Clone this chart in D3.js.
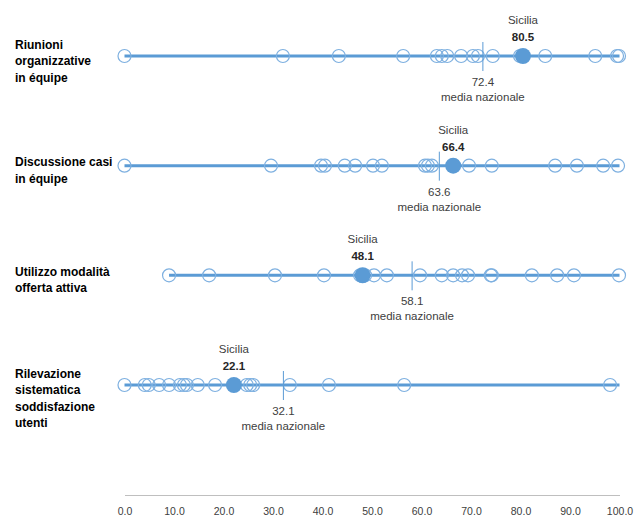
<!DOCTYPE html>
<html>
<head>
<meta charset="utf-8">
<script src="https://cdn.jsdelivr.net/npm/d3@7"></script>
<style>
    body { margin: 0; background: white; }
    text { font-family: "Liberation Sans", Arial, sans-serif; }
</style>
</head>
<body>
<svg id="chart" width="643" height="527"></svg>
<script>
const width = 643
const height = 527

// categorie (righe) - etichette su più linee
const categories = [
    ["Riunioni", "organizzative", "in équipe"],
    ["Discussione casi", "in équipe"],
    ["Utilizzo modalità", "offerta attiva"],
    ["Rilevazione", "sistematica", "soddisfazione", "utenti"]
]

// valori regionali
const regioni_riunioni = [0, 32.0, 43.3, 56.3, 63.1, 64.1, 65.2, 68.0, 70.4, 71.4, 74.4, 79.9, 85.0, 95.1, 99.5, 99.9]
const regioni_discussione = [0, 29.6, 39.7, 40.5, 44.5, 46.6, 50.2, 52.0, 60.7, 61.3, 62.1, 69.6, 74.2, 87.0, 91.4, 96.7, 99.7]
const regioni_offerta = [9.0, 17.1, 30.4, 40.3, 47.6, 48.6, 50.4, 53.0, 59.7, 64.1, 66.4, 68.2, 69.4, 74.0, 74.2, 82.3, 87.4, 90.8, 99.9]
const regioni_soddisfazione = [0, 4.1, 4.9, 7.0, 9.0, 11.2, 12.0, 12.6, 14.8, 18.3, 24.7, 25.4, 26.0, 33.4, 41.3, 56.5, 98.1]
const regioni = [regioni_riunioni, regioni_discussione, regioni_offerta, regioni_soddisfazione]

const sicilia = [80.5, 66.4, 48.1, 22.1]
const mediaNazionale = [72.4, 63.6, 58.1, 32.1]

const ticks = [0, 10, 20, 30, 40, 50, 60, 70, 80, 90, 100]

const blu = "#5B9BD5"
const bluChiaro = "#7EB0E0"

const svg = d3.select("#chart")

const x = d3.scaleLinear().domain([0, 100]).range([124.5, 619.5])
const y = d3.scalePoint().domain(d3.range(categories.length)).range([56, 385])

// etichette delle righe
svg.selectAll(".rowLabel")
    .data(categories)
    .join("text")
    .attr("class", "rowLabel")
    .attr("font-size", "12px")
    .attr("font-weight", "bold")
    .attr("fill", "#000")
    .each(function (d, i) {
        const top = y(i) + (d.length >= 3 ? -7.5 : 0.5)
        d3.select(this).selectAll("tspan")
            .data(d)
            .join("tspan")
            .attr("x", 15)
            .attr("y", (t, j) => top + j * 16.5)
            .text(t => t)
    })

const rows = svg.selectAll(".row")
    .data(regioni)
    .join("g")
    .attr("class", "row")
    .attr("transform", (d, i) => `translate(0,${y(i)})`)

// linea orizzontale (dal minimo a 100)
rows.append("line")
    .attr("x1", d => x(d3.min(d)))
    .attr("x2", x(100))
    .attr("stroke", blu)
    .attr("stroke-width", 3)

// cerchi vuoti per le regioni
rows.selectAll(".regione")
    .data(d => d)
    .join("circle")
    .attr("class", "regione")
    .attr("cx", d => x(d))
    .attr("r", 6.5)
    .attr("fill", "none")
    .attr("stroke", bluChiaro)
    .attr("stroke-width", 1.2)

// media nazionale - trattino verticale
rows.append("line")
    .attr("x1", (d, i) => x(mediaNazionale[i]))
    .attr("x2", (d, i) => x(mediaNazionale[i]))
    .attr("y1", -14)
    .attr("y2", 15)
    .attr("stroke", blu)
    .attr("stroke-width", 1)

rows.append("text")
    .attr("x", (d, i) => x(mediaNazionale[i]))
    .attr("y", 30)
    .attr("text-anchor", "middle")
    .attr("font-size", "11.5px")
    .attr("fill", "#404040")
    .text((d, i) => mediaNazionale[i].toFixed(1))

rows.append("text")
    .attr("x", (d, i) => x(mediaNazionale[i]))
    .attr("y", 45)
    .attr("text-anchor", "middle")
    .attr("font-size", "11.5px")
    .attr("fill", "#404040")
    .text("media nazionale")

// Sicilia
rows.append("circle")
    .attr("cx", (d, i) => x(sicilia[i]))
    .attr("r", 8)
    .attr("fill", blu)

rows.append("text")
    .attr("x", (d, i) => x(sicilia[i]))
    .attr("y", -32)
    .attr("text-anchor", "middle")
    .attr("font-size", "11.5px")
    .attr("fill", "#404040")
    .text("Sicilia")

rows.append("text")
    .attr("x", (d, i) => x(sicilia[i]))
    .attr("y", -15)
    .attr("text-anchor", "middle")
    .attr("font-size", "11.5px")
    .attr("font-weight", "bold")
    .attr("fill", "#262626")
    .text((d, i) => sicilia[i].toFixed(1))

// asse x
const axis = svg.append("g")
    .attr("transform", "translate(0,495)")
    .call(d3.axisBottom(x).tickValues(ticks).tickSize(0).tickPadding(13).tickFormat(d3.format(".1f")))

axis.select(".domain").attr("stroke", "#BFBFBF")
axis.selectAll("text")
    .attr("font-family", "Liberation Sans, Arial, sans-serif")
    .attr("font-size", "10.5px")
    .attr("fill", "#404040")
</script>
</body>
</html>
